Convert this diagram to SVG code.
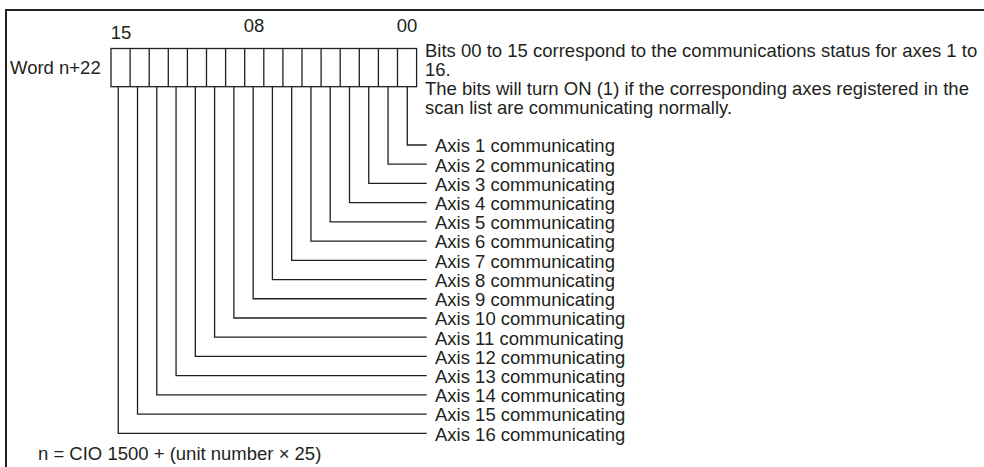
<svg xmlns="http://www.w3.org/2000/svg" width="984" height="467" viewBox="0 0 984 467">
<style>
text{font-family:"Liberation Sans",Arial,sans-serif;font-size:18.5px;fill:#231f20}
.ln{fill:none;stroke:#231f20;stroke-width:1.3}
.frame{fill:none;stroke:#231f20;stroke-width:2}
</style>
<rect width="984" height="467" fill="#fff"/>
<path class="frame" d="M6 467V10H984"/>
<g id="register">
<text x="10" y="74">Word n+22</text>
<text x="121" y="39" text-anchor="middle">15</text>
<text x="254" y="32" text-anchor="middle">08</text>
<text x="407" y="32" text-anchor="middle">00</text>
<rect class="ln" x="111" y="48.5" width="305.6" height="38.2"/>
<path class="ln" d="M130.1 48.5V86.7M149.2 48.5V86.7M168.3 48.5V86.7M187.4 48.5V86.7M206.5 48.5V86.7M225.6 48.5V86.7M244.7 48.5V86.7M263.8 48.5V86.7M282.9 48.5V86.7M302 48.5V86.7M321.1 48.5V86.7M340.2 48.5V86.7M359.3 48.5V86.7M378.4 48.5V86.7M397.5 48.5V86.7"/>
</g>
<g id="description">
<text x="425" y="56.5">Bits 00 to 15 correspond to the communications status for axes 1 to</text>
<text x="425" y="75.7">16.</text>
<text x="425" y="94.9">The bits will turn ON (1) if the corresponding axes registered in the</text>
<text x="425" y="114.1">scan list are communicating normally.</text>
</g>
<g id="connectors" class="ln">
<path d="M407.3 86.7V145H426.7"/>
<path d="M388.03 86.7V164.22H426.7"/>
<path d="M368.76 86.7V183.44H426.7"/>
<path d="M349.49 86.7V202.66H426.7"/>
<path d="M330.22 86.7V221.88H426.7"/>
<path d="M310.95 86.7V241.1H426.7"/>
<path d="M291.68 86.7V260.32H426.7"/>
<path d="M272.41 86.7V279.54H426.7"/>
<path d="M253.14 86.7V298.76H426.7"/>
<path d="M233.87 86.7V317.98H426.7"/>
<path d="M214.6 86.7V337.2H426.7"/>
<path d="M195.33 86.7V356.42H426.7"/>
<path d="M176.06 86.7V375.64H426.7"/>
<path d="M156.79 86.7V394.86H426.7"/>
<path d="M137.52 86.7V414.08H426.7"/>
<path d="M118.25 86.7V433.3H426.7"/>
</g>
<g id="axis1"><text x="435" y="152.3">Axis 1 communicating</text></g>
<g id="axis2"><text x="435" y="171.5">Axis 2 communicating</text></g>
<g id="axis3"><text x="435" y="190.7">Axis 3 communicating</text></g>
<g id="axis4"><text x="435" y="210">Axis 4 communicating</text></g>
<g id="axis5"><text x="435" y="229.2">Axis 5 communicating</text></g>
<g id="axis6"><text x="435" y="248.4">Axis 6 communicating</text></g>
<g id="axis7"><text x="435" y="267.6">Axis 7 communicating</text></g>
<g id="axis8"><text x="435" y="286.8">Axis 8 communicating</text></g>
<g id="axis9"><text x="435" y="306.1">Axis 9 communicating</text></g>
<g id="axis10"><text x="435" y="325.3">Axis 10 communicating</text></g>
<g id="axis11"><text x="435" y="344.5">Axis 11 communicating</text></g>
<g id="axis12"><text x="435" y="363.7">Axis 12 communicating</text></g>
<g id="axis13"><text x="435" y="382.9">Axis 13 communicating</text></g>
<g id="axis14"><text x="435" y="402.2">Axis 14 communicating</text></g>
<g id="axis15"><text x="435" y="421.4">Axis 15 communicating</text></g>
<g id="axis16"><text x="435" y="440.6">Axis 16 communicating</text></g>
<g id="footnote"><text x="38" y="460">n = CIO 1500 + (unit number × 25)</text></g>
</svg>
